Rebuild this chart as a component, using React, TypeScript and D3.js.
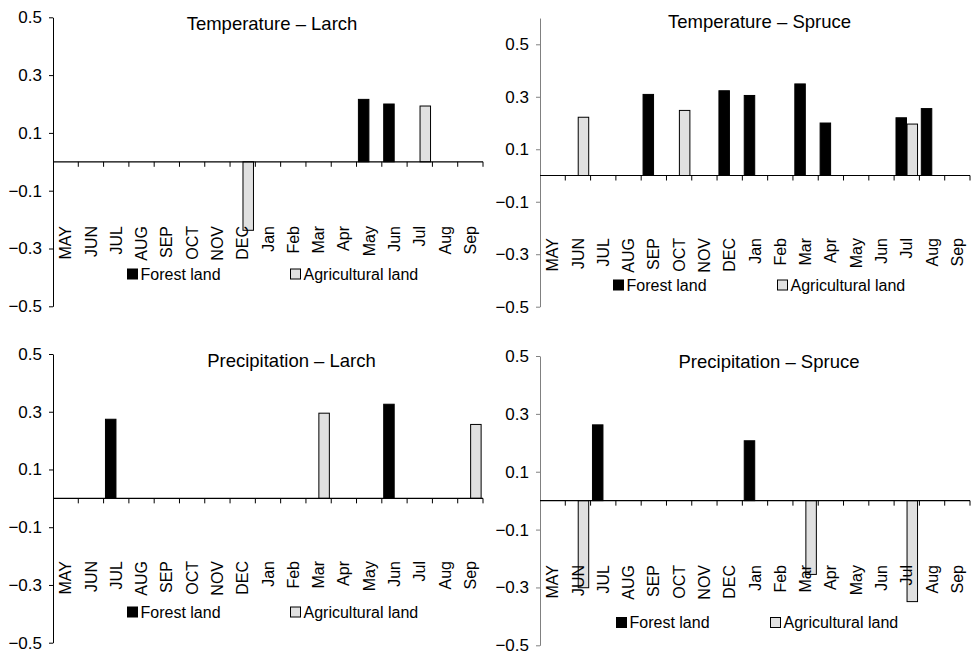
import React, { useEffect, useRef } from "react";
import * as d3 from "d3";

const months = ["MAY", "JUN", "JUL", "AUG", "SEP", "OCT", "NOV", "DEC", "Jan", "Feb", "Mar", "Apr", "May", "Jun", "Jul", "Aug", "Sep"];
const seriesNames = ["Forest land", "Agricultural land"];
const yTicks = [-0.5, -0.3, -0.1, 0.1, 0.3, 0.5];

const _ = null;
const tempLarchForest = [_, _, _, _, _, _, _, _, _, _, _, _, 0.216, 0.2, _, _, _];
const tempLarchAgri = [_, _, _, _, _, _, _, -0.237, _, _, _, _, _, _, 0.193, _, _];
const tempSpruceForest = [_, _, _, _, 0.309, _, _, 0.323, 0.305, _, 0.349, 0.2, _, _, 0.22, 0.255, _];
const tempSpruceAgri = [_, 0.222, _, _, _, 0.248, _, _, _, _, _, _, _, _, 0.196, _, _];
const precLarchForest = [_, _, 0.274, _, _, _, _, _, _, _, _, _, _, 0.326, _, _, _];
const precLarchAgri = [_, _, _, _, _, _, _, _, _, _, 0.295, _, _, _, _, _, 0.256];
const precSpruceForest = [_, _, 0.262, _, _, _, _, _, 0.207, _, _, _, _, _, _, _, _];
const precSpruceAgri = [_, -0.301, _, _, _, _, _, _, _, _, -0.255, _, _, _, -0.349, _, _];

// layout of the four panels (pixel positions only)
const panels = [
  { title: "Temperature – Larch", forest: tempLarchForest, agri: tempLarchAgri, yMax: 0.5,
    x0: 53, yLow: 306.3, yHigh: 17.3, axisColor: "#000", titleX: 272, titleY: 30, labelTop: 226, legendY: 274, legendX: [127, 290] },
  { title: "Temperature – Spruce", forest: tempSpruceForest, agri: tempSpruceAgri, yMax: 0.6,
    x0: 540, yLow: 306.7, yHigh: 44.3, axisColor: "#808080", titleX: 759.5, titleY: 28, labelTop: 238, legendY: 285, legendX: [613, 777] },
  { title: "Precipitation – Larch", forest: precLarchForest, agri: precLarchAgri, yMax: 0.5,
    x0: 53, yLow: 642.7, yHigh: 354, axisColor: "#000", titleX: 291.5, titleY: 367, labelTop: 561, legendY: 612, legendX: [127, 290] },
  { title: "Precipitation – Spruce", forest: precSpruceForest, agri: precSpruceAgri, yMax: 0.5,
    x0: 540, yLow: 645.3, yHigh: 356, axisColor: "#808080", titleX: 769, titleY: 368, labelTop: 565, legendY: 622.5, legendX: [616, 770] },
];

const font = "'Liberation Sans', Arial, sans-serif";
const colors = ["#000000", "#e0e0e0"];
const plotWidth = 430;

export default function App() {
  const ref = useRef<SVGSVGElement>(null);

  useEffect(() => {
    const svg = d3.select(ref.current);
    svg.selectAll("*").remove();

    panels.forEach(p => {
      const g = svg.append("g");

      const x = d3.scaleBand<number>()
        .domain(d3.range(months.length))
        .range([p.x0, p.x0 + plotWidth])
        .paddingInner(0)
        .paddingOuter(0);

      const inner = d3.scaleBand<number>()
        .domain([0, 1])
        .range([0, x.bandwidth()])
        .paddingInner(0.05)
        .paddingOuter(0.17);

      const y = d3.scaleLinear().domain([-0.5, 0.5]).range([p.yLow, p.yHigh]);
      const yAxisScale = d3.scaleLinear().domain([-0.5, p.yMax]).range([p.yLow, y(p.yMax)]);

      // y axis
      const ya = g.append("g")
        .attr("transform", `translate(${p.x0},0)`)
        .call(d3.axisLeft(yAxisScale).tickValues(yTicks).tickFormat(d3.format(".1f")).tickSize(4).tickSizeOuter(0).tickPadding(7));
      ya.select(".domain").attr("stroke", p.axisColor);
      ya.selectAll(".tick line").attr("stroke", p.axisColor);
      ya.selectAll(".tick text")
        .attr("fill", "#000")
        .style("font-family", font)
        .style("font-size", "17px");

      // bars
      [p.forest, p.agri].forEach((vals, s) => {
        g.selectAll(`.bar${s}`)
          .data(vals.map((v, i) => ({ v, i })).filter(d => d.v !== null))
          .join("rect")
          .attr("class", `bar${s}`)
          .attr("x", d => x(d.i)! + inner(s)!)
          .attr("y", d => y(Math.max(0, d.v as number)))
          .attr("width", inner.bandwidth())
          .attr("height", d => Math.abs(y(d.v as number) - y(0)))
          .attr("fill", colors[s])
          .attr("stroke", "#000")
          .attr("stroke-width", 1);
      });

      // x axis at zero
      const y0 = y(0);
      g.append("line")
        .attr("x1", p.x0).attr("x2", p.x0 + plotWidth)
        .attr("y1", y0).attr("y2", y0)
        .attr("stroke", "#000").attr("stroke-width", 1.2);
      g.selectAll(".xtick")
        .data(d3.range(months.length))
        .join("line")
        .attr("class", "xtick")
        .attr("x1", i => x(i)! + x.bandwidth())
        .attr("x2", i => x(i)! + x.bandwidth())
        .attr("y1", y0).attr("y2", y0 + 5)
        .attr("stroke", "#000");

      // month labels (low position)
      g.selectAll(".mlabel")
        .data(months)
        .join("text")
        .attr("class", "mlabel")
        .attr("transform", (d, i) => `translate(${x(i)! + x.bandwidth() / 2},${p.labelTop}) rotate(-90)`)
        .attr("dy", "0.35em")
        .attr("text-anchor", "end")
        .style("font-family", font)
        .style("font-size", "16px")
        .text(d => d);

      // title
      g.append("text")
        .attr("x", p.titleX)
        .attr("y", p.titleY)
        .attr("text-anchor", "middle")
        .style("font-family", font)
        .style("font-size", "18.5px")
        .text(p.title);

      // legend
      seriesNames.forEach((name, s) => {
        g.append("rect")
          .attr("x", p.legendX[s] + 0.5)
          .attr("y", p.legendY - 5)
          .attr("width", 10)
          .attr("height", 10)
          .attr("fill", colors[s])
          .attr("stroke", "#000")
          .attr("stroke-width", 1);
        g.append("text")
          .attr("x", p.legendX[s] + 13.5)
          .attr("y", p.legendY + 5.8)
          .style("font-family", font)
          .style("font-size", "16px")
          .text(name);
      });
    });
  }, []);

  return (
    <svg ref={ref} width={972} height={651}
      style={{ position: "absolute", left: 0, top: 0, background: "#fff" }} />
  );
}
